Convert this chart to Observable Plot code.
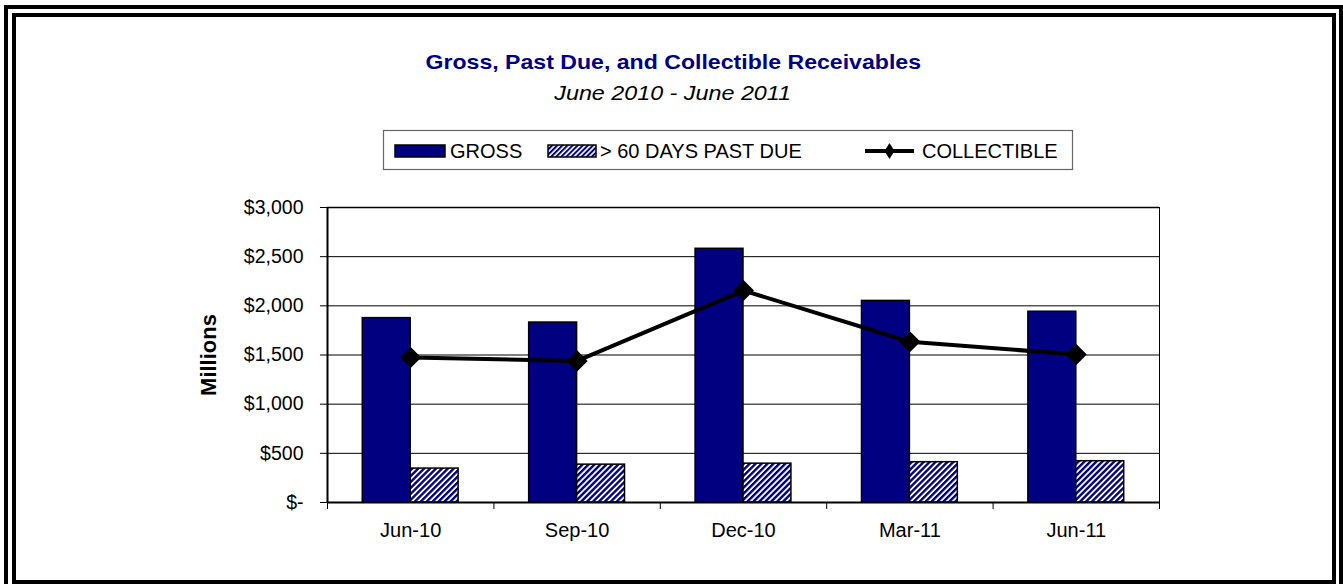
<!DOCTYPE html>
<html>
<head>
<meta charset="utf-8">
<script src="https://cdn.jsdelivr.net/npm/d3@7"></script>
<script src="https://cdn.jsdelivr.net/npm/@observablehq/plot@0.6"></script>
<style>
  html, body { margin: 0; padding: 0; background: #fff; }
  #page { position: relative; width: 1343px; height: 584px; overflow: hidden; background: #fff;
          font-family: "Liberation Sans", Arial, sans-serif; }
  .frame { position: absolute; box-sizing: border-box; border: 4px solid #000; }
  .title { position: absolute; left: 0; width: 1346px; text-align: center; white-space: nowrap; }
  .title span { display: inline-block; }
  #t1 { top: 51px; font-size: 21px; line-height: 21px; font-weight: bold; color: #000080; }
  #t1 span { transform: scaleX(1.1); }
  #t2 { top: 82px; font-size: 21px; line-height: 21px; font-style: italic; color: #000; }
  #t2 span { transform: scaleX(1.11); }
  #ylabel { position: absolute; left: 209px; top: 355px; transform: translate(-50%, -50%) rotate(-90deg);
            font-size: 22px; font-weight: bold; white-space: nowrap; }
  #legend { position: absolute; left: 383px; top: 130px; }
</style>
</head>
<body>
<div id="page">
  <div id="chart"></div>
  <div class="title" id="t1"><span>Gross, Past Due, and Collectible Receivables</span></div>
  <div class="title" id="t2"><span>June 2010 - June 2011</span></div>
  <div id="ylabel">Millions</div>
  <div id="legend"></div>
  <div class="frame" style="left:4px; top:5px; width:1339px; height:600px;"></div>
  <div class="frame" style="left:12px; top:13px; width:1324px; height:571px;"></div>
</div>
<script>
// ---- data ----
const months = ["Jun-10", "Sep-10", "Dec-10", "Mar-11", "Jun-11"];
const gross = [1875, 1830, 2580, 2050, 1940];
const pastDue = [345, 385, 395, 410, 420];
const collectible = [1475, 1440, 2155, 1635, 1505];
const yTicks = [0, 500, 1000, 1500, 2000, 2500, 3000];
const seriesNames = ["GROSS", "> 60 DAYS PAST DUE", "COLLECTIBLE"];

const NAVY = "#000080";
const FONT = "'Liberation Sans', Arial, sans-serif";
const barLeft = 0.212, barMid = 0.5, barRight = 0.788;

const diamond = {
  draw(ctx, size) {
    const h = Math.sqrt(size) * 0.66;
    ctx.moveTo(0, -h); ctx.lineTo(h, 0); ctx.lineTo(0, h); ctx.lineTo(-h, 0); ctx.closePath();
  }
};

const yFmt = d => d === 0 ? "$-" : "$" + d3.format(",")(d);

const plot = Plot.plot({
  width: 1343,
  height: 584,
  marginLeft: 327,
  marginRight: 184,
  marginTop: 207,
  marginBottom: 82,
  style: { fontFamily: FONT, fontSize: "19.5px", color: "#000", background: "transparent", overflow: "visible" },
  x: { type: "linear", domain: [0, months.length], axis: null },
  y: { domain: [0, 3000], axis: null },
  marks: [
    Plot.ruleY(yTicks, { stroke: "#000", strokeWidth: 1 }),
    Plot.rectY(gross, { x1: (d, i) => i + barLeft, x2: (d, i) => i + barMid, y1: 0, y2: d => d,
                        fill: NAVY, stroke: "#000", strokeWidth: 1.5 }),
    Plot.rectY(pastDue, { x1: (d, i) => i + barMid, x2: (d, i) => i + barRight, y1: 0, y2: d => d,
                          fill: "url(#hatch)", stroke: "#000", strokeWidth: 1.5 }),
    Plot.frame({ stroke: "#000", strokeWidth: 1 }),
    Plot.ruleX([0], { stroke: "#000", strokeWidth: 2 }),
    Plot.ruleY([0], { stroke: "#000", strokeWidth: 2 }),
    Plot.ruleY([3000], { stroke: "#000", strokeWidth: 1.5 }),
    Plot.axisY(yTicks, { tickSize: 7, tickPadding: 17, tickFormat: yFmt, label: null, fontSize: 19.5 }),
    Plot.axisX(d3.range(months.length + 1), { tickSize: 7, tickFormat: () => "", label: null }),
    Plot.axisX(months.map((m, i) => i + 0.5), { tickSize: 0, tickPadding: 20,
                  tickFormat: d => months[Math.floor(d)], label: null, fontSize: 20 }),
    Plot.line(collectible, { x: (d, i) => i + 0.5, y: d => d, stroke: "#000", strokeWidth: 4 }),
    Plot.dot(collectible, { x: (d, i) => i + 0.5, y: d => d, symbol: diamond, r: 9, fill: "#000", stroke: "none" })
  ]
});
plot.style.position = "absolute";
plot.style.left = "0px";
plot.style.top = "0px";
d3.select(plot).insert("defs", ":first-child").html(
  `<pattern id="hatch" patternUnits="userSpaceOnUse" width="4.2" height="4.2" patternTransform="rotate(45)">
     <rect width="4.2" height="4.2" fill="#fff"/><rect width="2.4" height="4.2" fill="${NAVY}"/>
   </pattern>`);
document.getElementById("chart").appendChild(plot);

// ---- legend ----
const lg = d3.select("#legend").append("svg")
  .attr("width", 690).attr("height", 40)
  .style("font-family", FONT).style("overflow", "visible");
lg.append("defs").html(
  `<pattern id="hatchL" patternUnits="userSpaceOnUse" width="3.6" height="3.6" patternTransform="rotate(45)">
     <rect width="3.6" height="3.6" fill="#fff"/><rect width="2" height="3.6" fill="${NAVY}"/>
   </pattern>`);
lg.append("rect").attr("x", 0.5).attr("y", 0.5).attr("width", 689).attr("height", 39)
  .attr("fill", "#fff").attr("stroke", "#666").attr("stroke-width", 1.2);
lg.append("rect").attr("x", 12).attr("y", 15).attr("width", 50).attr("height", 12)
  .attr("fill", NAVY).attr("stroke", "#000").attr("stroke-width", 1.5);
lg.append("text").attr("x", 67).attr("y", 28).attr("font-size", 20).text(seriesNames[0]);
lg.append("rect").attr("x", 165).attr("y", 15).attr("width", 48).attr("height", 12)
  .attr("fill", "url(#hatchL)").attr("stroke", "#000").attr("stroke-width", 1.5);
lg.append("text").attr("x", 217).attr("y", 28).attr("font-size", 20).text(seriesNames[1]);
lg.append("line").attr("x1", 482).attr("x2", 531).attr("y1", 21).attr("y2", 21)
  .attr("stroke", "#000").attr("stroke-width", 4);
lg.append("path").attr("d", "M506.5,13 L511.5,21 L506.5,29 L501.5,21 Z").attr("fill", "#000");
lg.append("text").attr("x", 539).attr("y", 28).attr("font-size", 20).text(seriesNames[2]);
</script>
</body>
</html>
